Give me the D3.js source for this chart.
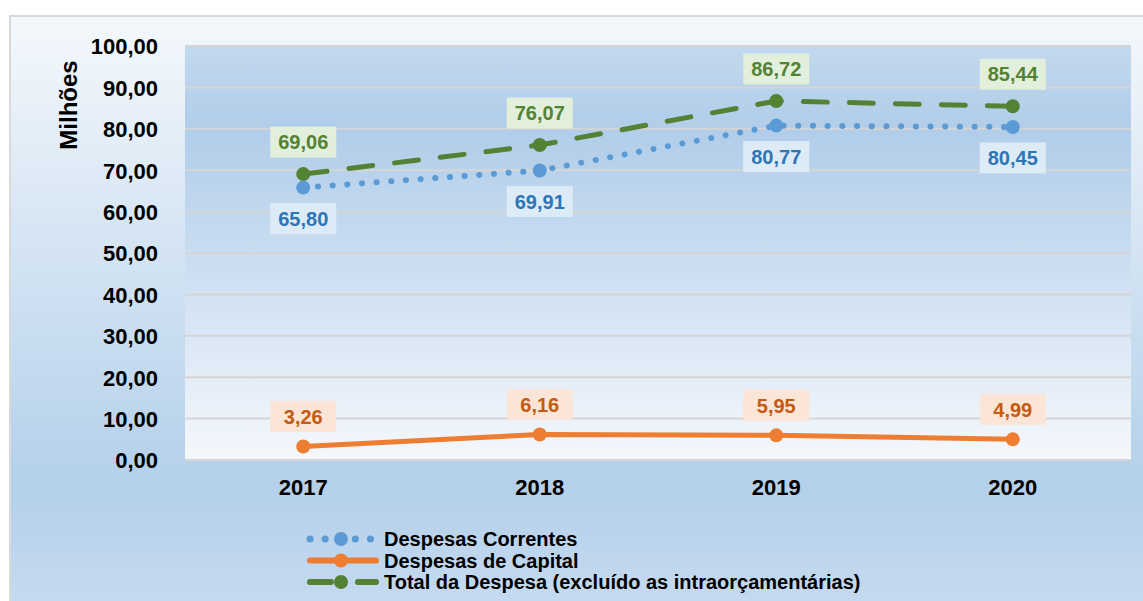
<!DOCTYPE html>
<html>
<head>
<meta charset="utf-8">
<script src="https://cdn.jsdelivr.net/npm/d3@7"></script>
<style>
  body { margin: 0; background: #ffffff; }
  svg { display: block; font-family: "Liberation Sans", Arial, sans-serif; }
</style>
</head>
<body>
<div id="chart"></div>
<script>
var width = 1143;
var height = 601;

// data
var years = ["2017", "2018", "2019", "2020"];
var correntes = [65.80, 69.91, 80.77, 80.45];
var capital = [3.26, 6.16, 5.95, 4.99];
var total = [69.06, 76.07, 86.72, 85.44];
var yTicks = [0, 10, 20, 30, 40, 50, 60, 70, 80, 90, 100];
var legendNames = ["Despesas Correntes", "Despesas de Capital", "Total da Despesa (excluído as intraorçamentárias)"];

var plot = { left: 185, right: 1131, top: 46, bottom: 460 };

var svg = d3.select("#chart")
    .append("svg")
    .attr("width", width)
    .attr("height", height);

var defs = svg.append("defs");

// outer background gradient
var outerGrad = defs.append("linearGradient")
    .attr("id", "outerGrad")
    .attr("x1", 0).attr("y1", 0).attr("x2", 0).attr("y2", 1);
outerGrad.append("stop").attr("offset", "0%").attr("stop-color", "#f4f8fc");
outerGrad.append("stop").attr("offset", "78%").attr("stop-color", "#b4d0ea");
outerGrad.append("stop").attr("offset", "100%").attr("stop-color", "#c7dbf0");

// plot area gradient (blue on top, white at bottom)
var plotGrad = defs.append("linearGradient")
    .attr("id", "plotGrad")
    .attr("x1", 0).attr("y1", 0).attr("x2", 0).attr("y2", 1);
plotGrad.append("stop").attr("offset", "0%").attr("stop-color", "#c2d8ee");
plotGrad.append("stop").attr("offset", "20%").attr("stop-color", "#b1cde9");
plotGrad.append("stop").attr("offset", "55%").attr("stop-color", "#cddff2");
plotGrad.append("stop").attr("offset", "100%").attr("stop-color", "#f5f8fc");

svg.append("rect")
    .attr("x", 10)
    .attr("y", 16)
    .attr("width", width)
    .attr("height", height)
    .attr("fill", "url(#outerGrad)")
    .attr("stroke", "#d9d9d9")
    .attr("stroke-width", 2);

svg.append("rect")
    .attr("x", plot.left)
    .attr("y", plot.top)
    .attr("width", plot.right - plot.left)
    .attr("height", plot.bottom - plot.top)
    .attr("fill", "url(#plotGrad)");

var x = d3.scaleBand()
    .domain(years)
    .range([plot.left, plot.right]);

var y = d3.scaleLinear()
    .domain([0, 100])
    .range([plot.bottom, plot.top]);

function fmt(v) {
    return d3.format(".2f")(v).replace(".", ",");
}

// gridlines
svg.append("g")
    .attr("id", "grid")
    .selectAll("line")
    .data(yTicks)
    .enter()
        .append("line")
        .attr("x1", plot.left)
        .attr("x2", plot.right)
        .attr("y1", function(d){ return y(d); })
        .attr("y2", function(d){ return y(d); })
        .attr("stroke", "#d5d5d5")
        .attr("stroke-width", 2);

// y axis
var yAxis = svg.append("g")
    .attr("transform", "translate(" + (plot.left - 27) + ",0)")
    .call(d3.axisLeft(y).tickValues(yTicks).tickSize(0).tickFormat(fmt));
yAxis.select(".domain").remove();
yAxis.selectAll("text")
    .attr("x", 0)
    .attr("dy", "0.36em")
    .attr("font-size", 22)
    .attr("font-weight", "bold")
    .attr("font-family", "Liberation Sans, Arial, sans-serif")
    .attr("fill", "#000");

// x axis
var xAxis = svg.append("g")
    .attr("transform", "translate(0," + plot.bottom + ")")
    .call(d3.axisBottom(x).tickSize(0));
xAxis.select(".domain").remove();
xAxis.selectAll("text")
    .attr("y", 27)
    .attr("dy", "0.36em")
    .attr("font-size", 22)
    .attr("font-weight", "bold")
    .attr("font-family", "Liberation Sans, Arial, sans-serif")
    .attr("fill", "#000");

// y title
svg.append("text")
    .attr("transform", "translate(77,105) rotate(-90)")
    .attr("text-anchor", "middle")
    .attr("font-size", 24)
    .attr("font-weight", "bold")
    .attr("fill", "#000")
    .text("Milhões");

var cx = function(d,i){ return x(years[i]) + x.bandwidth() / 2; };

var series = [
    { values: correntes, color: "#5b9bd5", dash: "0.1,14.6", width: 6, legendDash: "0.1,15", labelFill: "#ddebf7", labelColor: "#2e75b6", offset: 31 },
    { values: capital, color: "#ed7d31", dash: null, width: 5, legendDash: null, labelFill: "#fbe5d6", labelColor: "#c55a11", offset: -30 },
    { values: total, color: "#548235", dash: "24,22", width: 5, legendDash: "21,27", labelFill: "#e2efda", labelColor: "#548235", offset: -32 }
];

var line = d3.line()
    .x(function(d,i){ return cx(d,i); })
    .y(function(d){ return y(d); });

series.forEach(function(s){
    var g = svg.append("g");
    g.append("path")
        .datum(s.values)
        .attr("d", line)
        .attr("fill", "none")
        .attr("stroke", s.color)
        .attr("stroke-width", s.width)
        .attr("stroke-linecap", "round")
        .attr("stroke-dasharray", s.dash);
    g.selectAll("circle")
        .data(s.values)
        .enter()
            .append("circle")
            .attr("cx", cx)
            .attr("cy", function(d){ return y(d); })
            .attr("r", 7)
            .attr("fill", s.color);
});

// data labels
series.forEach(function(s){
    var g = svg.append("g");
    var lab = g.selectAll("g")
        .data(s.values)
        .enter()
            .append("g")
            .attr("transform", function(d,i){ return "translate(" + cx(d,i) + "," + (y(d) + s.offset) + ")"; });
    lab.append("rect")
        .attr("x", -33)
        .attr("y", -15.5)
        .attr("width", 66)
        .attr("height", 31)
        .attr("fill", s.labelFill);
    lab.append("text")
        .attr("text-anchor", "middle")
        .attr("dy", "0.36em")
        .attr("font-size", 20)
        .attr("font-weight", "bold")
        .attr("fill", s.labelColor)
        .text(function(d){ return fmt(d); });
});

// legend
var legend = svg.append("g")
    .attr("transform", "translate(310,539)");
series.forEach(function(s, i){
    var row = legend.append("g").attr("transform", "translate(0," + (i * 21.5) + ")");
    row.append("line")
        .attr("x1", 0)
        .attr("x2", 66)
        .attr("y1", 0)
        .attr("y2", 0)
        .attr("stroke", s.color)
        .attr("stroke-width", s.width + 1)
        .attr("stroke-linecap", "round")
        .attr("stroke-dasharray", s.legendDash);
    row.append("circle")
        .attr("cx", 31)
        .attr("cy", 0)
        .attr("r", 7)
        .attr("fill", s.color);
    row.append("text")
        .attr("x", 74)
        .attr("dy", "0.36em")
        .attr("font-size", 20)
        .attr("font-weight", "bold")
        .attr("fill", "#000")
        .text(legendNames[i]);
});
</script>
</body>
</html>
